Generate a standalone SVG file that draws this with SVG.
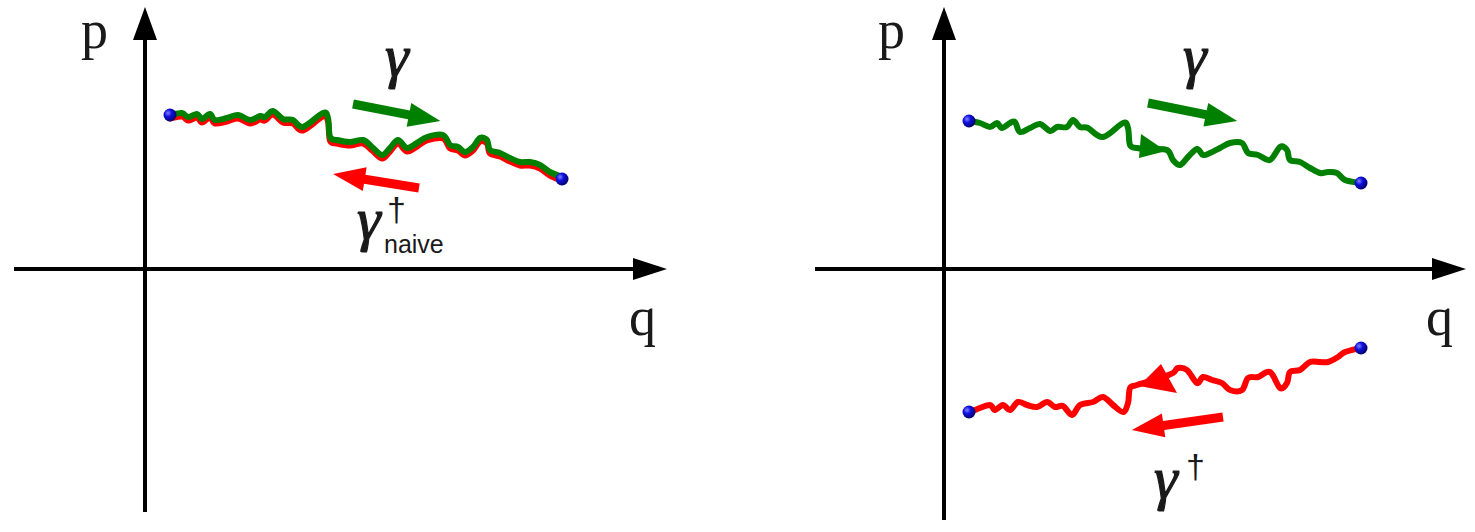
<svg xmlns="http://www.w3.org/2000/svg" width="1475" height="532" viewBox="0 0 1475 532">
<style>
.axis{stroke:#000;stroke-width:4;fill:none}
.head{fill:#000}
.lbl{font-family:"Liberation Serif",serif;font-size:54px;fill:#1a1a1a}
.gam{font-family:"Liberation Serif",serif;font-style:italic;font-size:60px;fill:#1a1a1a;stroke:#1a1a1a;stroke-width:1.2}
.dag{font-family:"Liberation Sans",sans-serif;font-size:34px;fill:#1a1a1a}
.sub{font-family:"Liberation Sans",sans-serif;font-size:25px;fill:#1a1a1a}
.g{stroke:#008000;stroke-width:6;fill:none;stroke-linejoin:round;stroke-linecap:round}
.r{stroke:#ff0000;stroke-width:6;fill:none;stroke-linejoin:round;stroke-linecap:round}
</style>
<defs>
<radialGradient id="ball" cx="0.35" cy="0.35" r="0.7">
<stop offset="0" stop-color="#8080ff"/>
<stop offset="0.4" stop-color="#1010e0"/>
<stop offset="1" stop-color="#000060"/>
</radialGradient>
<path id="lc" d="M170,115 C172,114.7 179,112.7 182,113 C185,113.3 185.5,116.8 188,117 C190.5,117.2 194.7,113.7 197,114 C199.3,114.3 199.8,119 202,119 C204.2,119 207.8,113.8 210,114 C212.2,114.2 212.2,119.3 215,120 C217.8,120.7 223.2,118.8 227,118 C230.8,117.2 234.2,114.7 238,115 C241.8,115.3 246.3,119.8 250,120 C253.7,120.2 257.5,116.5 260,116 C262.5,115.5 262.8,117.8 265,117 C267.2,116.2 270,110.7 273,111 C276,111.3 279.7,117.5 283,119 C286.3,120.5 289.7,118.7 293,120 C296.3,121.3 298,128.2 303,127 C308,125.8 318.8,114.5 323,113 C327.2,111.5 326.8,114 328,118 C329.2,122 328.5,133.3 330,137 C331.5,140.7 333.7,139.2 337,140 C340.3,140.8 345.7,142 350,142 C354.3,142 359.3,139.2 363,140 C366.7,140.8 368.8,144.5 372,147 C375.2,149.5 379,154.8 382,155 C385,155.2 387.3,150.5 390,148 C392.7,145.5 395.2,140 398,140 C400.8,140 403.8,147.5 407,148 C410.2,148.5 413.7,144.8 417,143 C420.3,141.2 422.7,138.3 427,137 C431.3,135.7 439.2,133.7 443,135 C446.8,136.3 447.5,143 450,145 C452.5,147 455.5,145.8 458,147 C460.5,148.2 462.5,152 465,152 C467.5,152 470.5,149.3 473,147 C475.5,144.7 477.7,139.2 480,138 C482.3,136.8 485.3,138 487,140 C488.7,142 487.8,147.8 490,150 C492.2,152.2 496.7,151.7 500,153 C503.3,154.3 506.7,156.5 510,158 C513.3,159.5 516.7,161.3 520,162 C523.3,162.7 526.7,161.5 530,162 C533.3,162.5 536.7,163.3 540,165 C543.3,166.7 546.3,170 550,172 C553.7,174 560,176.2 562,177"/>
</defs>
<g id="axes">
<line class="axis" x1="145" y1="512" x2="145" y2="35"/>
<polygon class="head" points="145,7 133,40 157,40"/>
<line class="axis" x1="14" y1="269" x2="640" y2="269"/>
<polygon class="head" points="667,269 633,258 633,280"/>
<line class="axis" x1="944" y1="520" x2="944" y2="35"/>
<polygon class="head" points="944,7 932,40 956,40"/>
<line class="axis" x1="815" y1="269" x2="1440" y2="269"/>
<polygon class="head" points="1466,269 1432,258 1432,280"/>
</g>
<g id="labels">
<text class="lbl" x="81" y="48">p</text>
<text class="lbl" x="629" y="335">q</text>
<text class="lbl" x="878" y="48">p</text>
<text class="lbl" x="1426" y="335">q</text>
<text class="gam" x="385" y="76">γ</text>
<text class="gam" x="1183" y="76">γ</text>
<text class="gam" x="357" y="239">γ</text>
<text class="dag" x="387" y="221">†</text>
<text class="sub" x="384" y="253">naive</text>
<text class="gam" x="1154" y="498">γ</text>
<text class="dag" x="1186" y="478">†</text>
</g>
<g id="left-paths">
<use href="#lc" class="r" transform="translate(0,3.5)"/>
<use href="#lc" class="g"/>
<circle cx="170" cy="115" r="6.5" fill="url(#ball)"/>
<circle cx="562" cy="179" r="6.5" fill="url(#ball)"/>
<polygon fill="#008000" transform="translate(353,104) rotate(11)" points="0,-4.5 57,-4.5 57,-12 89,0 57,12 57,4.5 0,4.5"/>
<polygon fill="#ff0000" transform="translate(419,188) rotate(189.2)" points="0,-4.5 55,-4.5 55,-12 87,0 55,12 55,4.5 0,4.5"/>
</g>
<g id="right-green">
<path class="g" d="M970,121 C971.7,121.3 977,122 980,123 C983.3,124 987.2,127 990,127 C992.8,127 995,122.8 997,123 C999,123.2 999.8,128 1002,128 C1004.2,128 1007.8,124 1010,123 C1012.2,122 1013.3,120.5 1015,122 C1016.7,123.5 1017.5,131 1020,132 C1022.5,133 1026.7,129.3 1030,128 C1033.3,126.7 1036.7,123.5 1040,124 C1043.3,124.5 1047.2,130.5 1050,131 C1052.8,131.5 1054.2,127.7 1057,127 C1059.8,126.3 1064.3,128.2 1067,127 C1069.7,125.8 1070.8,120 1073,120 C1075.2,120 1077.5,125.7 1080,127 C1082.5,128.3 1084.2,126.3 1088,128 C1091.8,129.7 1097.2,137.8 1103,137 C1108.8,136.2 1118.8,124.5 1123,123 C1127.2,121.5 1126.8,124.3 1128,128 C1129.2,131.7 1128.5,141.7 1130,145 C1131.5,148.3 1133.7,147.3 1137,148 C1140.3,148.7 1145,148.7 1150,149 C1155,149.3 1163.2,148.2 1167,150 C1170.8,151.8 1170.8,157.5 1173,160 C1175.2,162.5 1177.5,165.5 1180,165 C1182.5,164.5 1185.2,159.7 1188,157 C1190.8,154.3 1194.5,149.3 1197,149 C1199.5,148.7 1200.8,154.3 1203,155 C1205.2,155.7 1207.2,154.2 1210,153 C1212.8,151.8 1216.7,149.7 1220,148 C1223.3,146.3 1226.3,143.8 1230,143 C1233.7,142.2 1239,141.3 1242,143 C1245,144.7 1245.3,151 1248,153 C1250.7,155 1254.3,153.8 1258,155 C1261.7,156.2 1266.3,161.3 1270,160 C1273.7,158.7 1277.2,148.7 1280,147 C1282.8,145.3 1285.3,147.8 1287,150 C1288.7,152.2 1287.8,158 1290,160 C1292.2,162 1296.7,160.7 1300,162 C1303.3,163.3 1306.7,166.2 1310,168 C1313.3,169.8 1317,172.3 1320,173 C1323,173.7 1325.2,172 1328,172 C1330.8,172 1334.2,171.7 1337,173 C1339.8,174.3 1341.2,178.3 1345,180 C1348.8,181.7 1357.5,182.5 1360,183"/>
<polygon fill="#008000" points="1141,134 1166,151 1139,158"/>
<circle cx="969" cy="121" r="6.5" fill="url(#ball)"/>
<circle cx="1361" cy="183" r="6.5" fill="url(#ball)"/>
<polygon fill="#008000" transform="translate(1148,103) rotate(11.4)" points="0,-4.5 59,-4.5 59,-12 91,0 59,12 59,4.5 0,4.5"/>
</g>
<g id="right-red">
<path class="r" d="M970,412 C971.7,411.3 976.7,409.2 980,408 C983.3,406.8 987.5,404.7 990,405 C992.5,405.3 992.8,410 995,410 C997.2,410 1000.5,405 1003,405 C1005.5,405 1007.5,410.5 1010,410 C1012.5,409.5 1015.2,402.8 1018,402 C1020.8,401.2 1023.8,404.2 1027,405 C1030.2,405.8 1033.7,407.5 1037,407 C1040.3,406.5 1044,402 1047,402 C1050,402 1052.3,406.3 1055,407 C1057.7,407.7 1060.2,404.7 1063,406 C1065.8,407.3 1069.2,415.2 1072,415 C1074.8,414.8 1076.5,407.2 1080,405 C1083.5,402.8 1089.2,403.3 1093,402 C1096.8,400.7 1099.7,396.5 1103,397 C1106.3,397.5 1109.7,402.5 1113,405 C1116.3,407.5 1120.5,412.3 1123,412 C1125.5,411.7 1126.8,407 1128,403 C1129.2,399 1128.5,391 1130,388 C1131.5,385 1132,386.7 1137,385 C1142,383.3 1154,380 1160,378 C1166,376 1170,374.7 1173,373 C1176,371.3 1175.7,368.5 1178,368 C1180.3,367.5 1183.8,367.5 1187,370 C1190.2,372.5 1194.3,381.8 1197,383 C1199.7,384.2 1200.5,377.5 1203,377 C1205.5,376.5 1208.8,379 1212,380 C1215.2,381 1219,381.3 1222,383 C1225,384.7 1226.7,388.8 1230,390 C1233.3,391.2 1239,392 1242,390 C1245,388 1245.3,380.2 1248,378 C1250.7,375.8 1254.3,378 1258,377 C1261.7,376 1266.3,370.2 1270,372 C1273.7,373.8 1277.2,386.2 1280,388 C1282.8,389.8 1285.3,385.7 1287,383 C1288.7,380.3 1287.8,374.2 1290,372 C1292.2,369.8 1296.7,371.7 1300,370 C1303.3,368.3 1306.7,363.3 1310,362 C1313.3,360.7 1317,362 1320,362 C1323,362 1325,362.8 1328,362 C1331,361.2 1335.2,358.7 1338,357 C1340.8,355.3 1341.3,353.5 1345,352 C1348.7,350.5 1357.5,348.7 1360,348"/>
<polygon fill="#ff0000" points="1139,386 1161,364 1177,393"/>
<circle cx="969" cy="412" r="6.5" fill="url(#ball)"/>
<circle cx="1361" cy="348" r="6.5" fill="url(#ball)"/>
<polygon fill="#ff0000" transform="translate(1223,417) rotate(171.9)" points="0,-4.5 60,-4.5 60,-12 92,0 60,12 60,4.5 0,4.5"/>
</g>
</svg>
